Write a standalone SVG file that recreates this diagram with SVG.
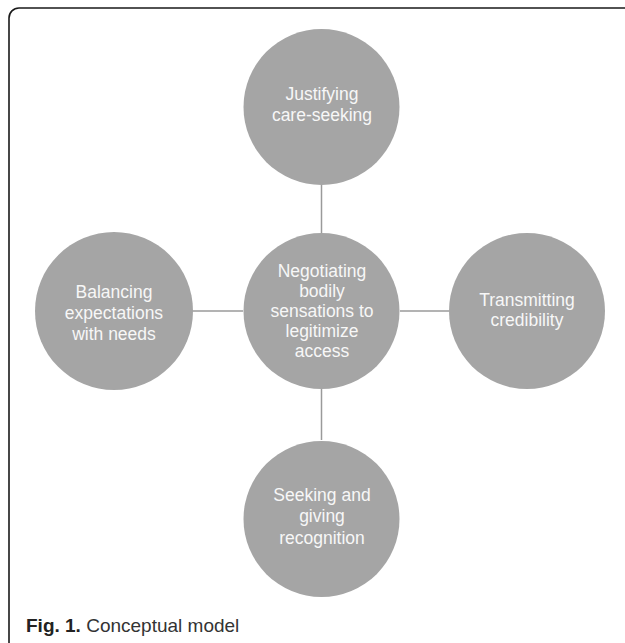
<svg xmlns="http://www.w3.org/2000/svg" width="625" height="643" viewBox="0 0 625 643">
  <style>
    .node circle { fill: #a5a5a5; }
    .node text { font-family: "Liberation Sans", Arial, sans-serif; font-size: 17.5px; fill: #f7f7f7; text-anchor: middle; }
    .conn line { stroke: #9a9a9a; stroke-width: 1.5; }
    .cap { font-family: "Liberation Sans", Arial, sans-serif; font-size: 19px; fill: #222; }
  </style>
  <rect x="0" y="0" width="625" height="643" fill="#ffffff"/>
  <rect x="9" y="8" width="720" height="644" rx="10" ry="10" fill="none" stroke="#1a1a1a" stroke-width="1.6"/>
  <g id="connectors" class="conn">
    <line x1="321.5" y1="185" x2="321.5" y2="233"/>
    <line x1="321.5" y1="389" x2="321.5" y2="440"/>
    <line x1="192" y1="311" x2="243" y2="311"/>
    <line x1="400" y1="311" x2="449" y2="311"/>
  </g>
  <g id="node-top" class="node">
    <circle cx="321.5" cy="107" r="78"/>
    <text x="322" y="100">Justifying</text>
    <text x="322" y="121">care-seeking</text>
  </g>
  <g id="node-center" class="node">
    <circle cx="321.5" cy="311" r="78"/>
    <text x="322" y="277">Negotiating</text>
    <text x="322" y="297">bodily</text>
    <text x="322" y="317">sensations to</text>
    <text x="322" y="337">legitimize</text>
    <text x="322" y="357">access</text>
  </g>
  <g id="node-left" class="node">
    <circle cx="114" cy="311" r="79"/>
    <text x="114" y="298">Balancing</text>
    <text x="114" y="319">expectations</text>
    <text x="114" y="340">with needs</text>
  </g>
  <g id="node-right" class="node">
    <circle cx="527" cy="311" r="78"/>
    <text x="527" y="306">Transmitting</text>
    <text x="527" y="326">credibility</text>
  </g>
  <g id="node-bottom" class="node">
    <circle cx="321.5" cy="519" r="78"/>
    <text x="322" y="501">Seeking and</text>
    <text x="322" y="522">giving</text>
    <text x="322" y="544">recognition</text>
  </g>
  <text class="cap" x="26" y="632"><tspan font-weight="bold">Fig. 1.</tspan> <tspan fill="#333">Conceptual model</tspan></text>
</svg>
